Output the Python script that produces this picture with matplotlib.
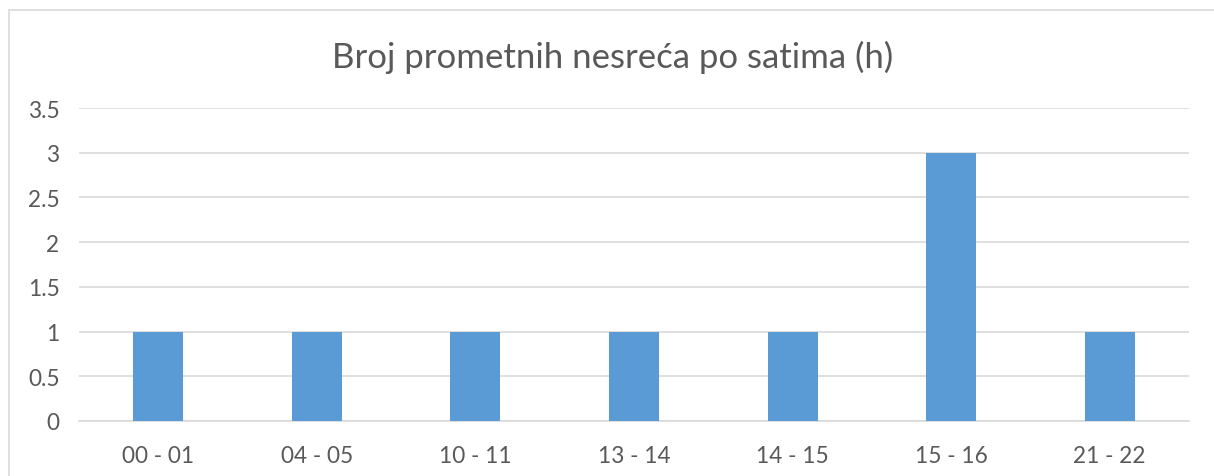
import matplotlib
matplotlib.use("Agg")
import matplotlib.pyplot as plt
from matplotlib.patches import Rectangle

categories = ["00 - 01", "04 - 05", "10 - 11", "13 - 14", "14 - 15", "15 - 16", "21 - 22"]
values = [1, 1, 1, 1, 1, 3, 1]
yticks = [0, 0.5, 1, 1.5, 2, 2.5, 3, 3.5]
ytick_labels = ["0", "0.5", "1", "1.5", "2", "2.5", "3", "3.5"]
title = "Broj prometnih nesreća po satima (h)"

W, H = 1214, 477
fig = plt.figure(figsize=(W / 100, H / 100), dpi=100)
plt.rcParams['font.family'] = ['Lato', 'DejaVu Sans']

# outer chart border (right/bottom extend beyond image)
fig.patches.append(Rectangle((8.5 / W, -0.1), 1.2, 1 - 10.5 / H + 0.1,
                             transform=fig.transFigure, fill=False,
                             edgecolor="#d9d9d9", linewidth=1.2))

ax = fig.add_axes([79 / W, 1 - 422 / H, (1189 - 79) / W, (422 - 109) / H])
x = range(len(categories))
ax.bar(x, values, width=0.315, color="#5b9bd5", zorder=3)
ax.set_xlim(-0.5, len(categories) - 0.5)
ax.set_ylim(0, 3.5)
ax.set_yticks(yticks)
ax.set_yticklabels(ytick_labels)
ax.set_xticks(list(x))
ax.set_xticklabels(categories)
ax.grid(axis="y", color="#d9d9d9", linewidth=1.2, zorder=0)
for s in ["top", "right", "left"]:
    ax.spines[s].set_visible(False)
ax.spines["bottom"].set_color("#d9d9d9")
ax.spines["bottom"].set_linewidth(1.2)
ax.tick_params(axis="both", length=0, labelsize=16.3, colors="#595959")
ax.tick_params(axis="y", pad=14)
ax.tick_params(axis="x", pad=17)

fig.text(613 / W, 1 - 57 / H, title, ha="center", va="center",
         fontsize=25, color="#595959")

fig.savefig("out.png", dpi=100)
